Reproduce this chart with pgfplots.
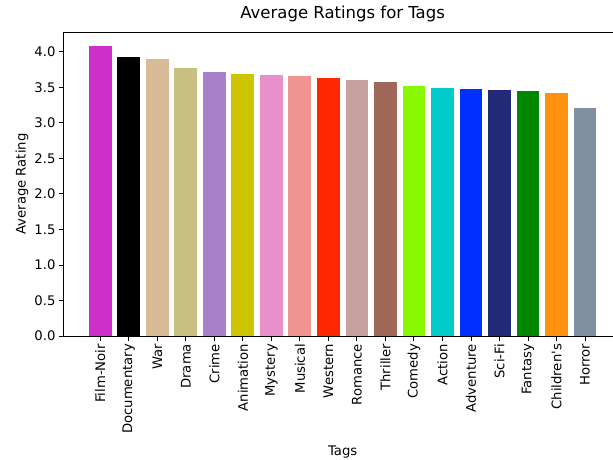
\documentclass[border=0pt]{standalone}
\usepackage{pgfplots}
\pgfplotsset{compat=1.18}
\usepackage{fontspec}
\setmainfont{DejaVu Sans}
\definecolor{c1}{HTML}{CC30C8}
\definecolor{c2}{HTML}{000000}
\definecolor{c3}{HTML}{D8BC98}
\definecolor{c4}{HTML}{C8C080}
\definecolor{c5}{HTML}{A880C8}
\definecolor{c6}{HTML}{CCC400}
\definecolor{c7}{HTML}{E890CC}
\definecolor{c8}{HTML}{F09490}
\definecolor{c9}{HTML}{FF2800}
\definecolor{c10}{HTML}{C8A0A0}
\definecolor{c11}{HTML}{A06858}
\definecolor{c12}{HTML}{88F800}
\definecolor{c13}{HTML}{00CCCC}
\definecolor{c14}{HTML}{0030FF}
\definecolor{c15}{HTML}{222A78}
\definecolor{c16}{HTML}{008800}
\definecolor{c17}{HTML}{FF9010}
\definecolor{c18}{HTML}{8090A0}
\begin{document}
\begin{tikzpicture}[x=1pt,y=1pt]
\begin{axis}[
  at={(63.5pt,123pt)}, anchor=south west, scale only axis,
  width=558.3pt, height=304pt,
  xmin=-1.29, xmax=18.29, ymin=0, ymax=4.279,
  ybar, bar width=0.8, bar shift=0pt,
  xtick={0,...,17},
  xticklabels={Film-Noir,Documentary,War,Drama,Crime,Animation,Mystery,Musical,Western,Romance,Thriller,Comedy,Action,Adventure,Sci-Fi,Fantasy,Children\textquotesingle s,Horror},
  ytick={0,0.5,...,4.0},
  yticklabel style={/pgf/number format/.cd,fixed,fixed zerofill,precision=1},
  /pgf/number format/assume math mode=true,
  tick pos=left, tick align=outside, major tick length=4.5pt,
  tick style={black, line width=0.9pt},
  axis line style={line width=0.9pt},
  ticklabel style={font=\fontsize{13.2}{15}\selectfont},
  x tick label style={rotate=90, anchor=east},
  title={Average Ratings for Tags},
  title style={at={(axis description cs:0.5,1)}, anchor=base, yshift=7.7pt, font=\fontsize{16.5}{18}\selectfont},
  xlabel={Tags},
  xlabel style={at={(axis description cs:0.5,0)}, anchor=base, yshift=-119pt, font=\fontsize{13.2}{15}\selectfont},
  ylabel={Average Rating},
  every axis y label/.style={at={(axis description cs:-0.0743,0.5)}, rotate=90, anchor=center, font=\fontsize{13.2}{15}\selectfont},
  every axis plot/.append style={draw=none},
]
\addplot[fill=c1] coordinates {(0,4.075)};
\addplot[fill=c2] coordinates {(1,3.933)};
\addplot[fill=c3] coordinates {(2,3.893)};
\addplot[fill=c4] coordinates {(3,3.766)};
\addplot[fill=c5] coordinates {(4,3.709)};
\addplot[fill=c6] coordinates {(5,3.684)};
\addplot[fill=c7] coordinates {(6,3.668)};
\addplot[fill=c8] coordinates {(7,3.665)};
\addplot[fill=c9] coordinates {(8,3.638)};
\addplot[fill=c10] coordinates {(9,3.607)};
\addplot[fill=c11] coordinates {(10,3.571)};
\addplot[fill=c12] coordinates {(11,3.522)};
\addplot[fill=c13] coordinates {(12,3.492)};
\addplot[fill=c14] coordinates {(13,3.477)};
\addplot[fill=c15] coordinates {(14,3.467)};
\addplot[fill=c16] coordinates {(15,3.447)};
\addplot[fill=c17] coordinates {(16,3.422)};
\addplot[fill=c18] coordinates {(17,3.215)};
\end{axis}
\pgfresetboundingbox
\path (0,0) rectangle (613,459);
\end{tikzpicture}
\end{document}
